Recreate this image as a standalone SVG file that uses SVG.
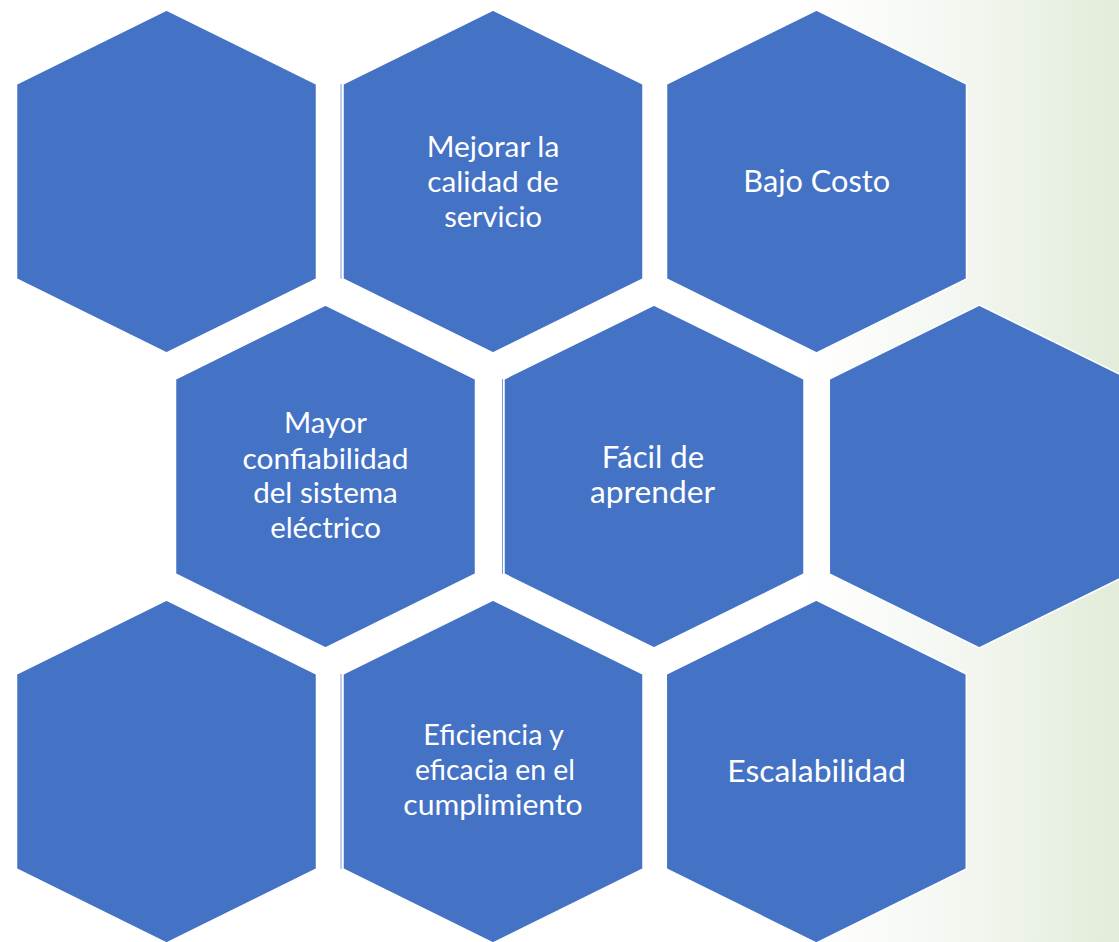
<svg xmlns="http://www.w3.org/2000/svg" width="1119" height="942" viewBox="0 0 1119 942">
  <defs>
    <linearGradient id="bg" x1="0" y1="0" x2="1" y2="0">
      <stop offset="0" stop-color="#ffffff"/>
      <stop offset="0.72" stop-color="#ffffff"/>
      <stop offset="0.87" stop-color="#f2f6ef"/>
      <stop offset="1" stop-color="#e2ecd9"/>
    </linearGradient>
    <polygon id="hex" points="0,0 150,74 150,269 0,343 -150,269 -150,74"/>
  </defs>
  <style>
    .hex { fill: #4472c4; stroke: #ffffff; stroke-width: 1.5; }
    .ghost { stroke: #7f9ed6; stroke-width: 1; }
    .lbl { font-family: Lato, "Liberation Sans", sans-serif; font-weight: 400; fill: #ffffff; text-anchor: middle; }
    .s1 { font-size: 28.5px; }
    .s2 { font-size: 30.5px; }
  </style>
  <rect x="0" y="0" width="1119" height="942" fill="url(#bg)"/>

  <g id="hex-1">
    <use href="#hex" class="hex" x="166.5" y="10"/>
  </g>

  <g id="hex-2">
    <line class="ghost" x1="341" y1="84" x2="341" y2="279"/>
    <use href="#hex" class="hex" x="493" y="10"/>
    <text class="lbl s1" x="493" y="156.7" textLength="132.6" lengthAdjust="spacingAndGlyphs">Mejorar la</text>
    <text class="lbl s1" x="493" y="191.7" textLength="131.4" lengthAdjust="spacingAndGlyphs">calidad de</text>
    <text class="lbl s1" x="493" y="226.7" textLength="97.7" lengthAdjust="spacingAndGlyphs">servicio</text>
  </g>

  <g id="hex-3">
    <use href="#hex" class="hex" x="816.5" y="10"/>
    <text class="lbl s2" x="816.7" y="192.3" textLength="146.7" lengthAdjust="spacingAndGlyphs">Bajo Costo</text>
  </g>

  <g id="hex-4">
    <use href="#hex" class="hex" x="325.5" y="305"/>
    <text class="lbl s1" x="325.5" y="432.7" textLength="83" lengthAdjust="spacingAndGlyphs">Mayor</text>
    <text class="lbl s1" x="325.5" y="469" textLength="166" lengthAdjust="spacingAndGlyphs">confiabilidad</text>
    <text class="lbl s1" x="325.5" y="503.3" textLength="144.6" lengthAdjust="spacingAndGlyphs">del sistema</text>
    <text class="lbl s1" x="325.5" y="538.3" textLength="110.7" lengthAdjust="spacingAndGlyphs">eléctrico</text>
  </g>

  <g id="hex-5">
    <line class="ghost" x1="502.5" y1="379" x2="502.5" y2="574"/>
    <use href="#hex" class="hex" x="654" y="305"/>
    <text class="lbl s2" x="653" y="467.7" textLength="102.3" lengthAdjust="spacingAndGlyphs">Fácil de</text>
    <text class="lbl s2" x="652.5" y="503.3" textLength="125" lengthAdjust="spacingAndGlyphs">aprender</text>
  </g>

  <g id="hex-6">
    <use href="#hex" class="hex" x="979.3" y="305"/>
  </g>

  <g id="hex-7">
    <use href="#hex" class="hex" x="166.5" y="600"/>
  </g>

  <g id="hex-8">
    <line class="ghost" x1="341" y1="674" x2="341" y2="869"/>
    <use href="#hex" class="hex" x="493" y="600"/>
    <text class="lbl s1" x="493.6" y="745" textLength="140.7" lengthAdjust="spacingAndGlyphs">Eficiencia y</text>
    <text class="lbl s1" x="495" y="780" textLength="160" lengthAdjust="spacingAndGlyphs">eficacia en el</text>
    <text class="lbl s1" x="493" y="815" textLength="179.4" lengthAdjust="spacingAndGlyphs">cumplimiento</text>
  </g>

  <g id="hex-9">
    <use href="#hex" class="hex" x="816.3" y="600"/>
    <text class="lbl s2" x="816.6" y="782.3" textLength="178.7" lengthAdjust="spacingAndGlyphs">Escalabilidad</text>
  </g>
</svg>
